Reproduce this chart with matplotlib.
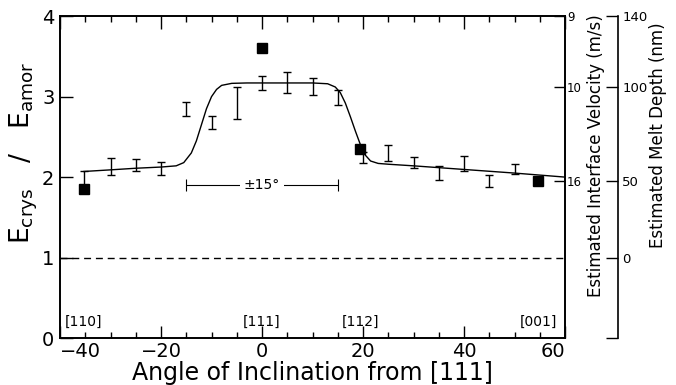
import matplotlib
matplotlib.use('Agg')
from matplotlib import pyplot as plt

plt.rcParams['font.family'] = ['DejaVu Sans']
plt.rcParams['mathtext.fontset'] = 'dejavusans'

# measured points (filled squares)
sq_x = [-35.26, 0.0, 19.47, 54.74]
sq_y = [1.85, 3.60, 2.35, 1.95]

# error bars: angle, lower, upper
eb_x = [-35.26, -30, -25, -20, -15, -10, -5, 0, 5, 10, 15, 20, 25, 30, 35, 40, 45, 50]
eb_lo = [1.87, 2.03, 2.08, 2.03, 2.76, 2.60, 2.72, 3.08, 3.04, 3.02, 2.89, 2.17, 2.20, 2.11, 1.96, 2.08, 1.88, 2.04]
eb_hi = [2.07, 2.24, 2.23, 2.19, 2.93, 2.76, 3.12, 3.26, 3.30, 3.23, 3.08, 2.31, 2.40, 2.25, 2.14, 2.26, 2.02, 2.16]

# fitted curve
fit_x = [-35.26, -30, -25, -20, -17, -15.5, -14, -13, -12, -11, -10, -9, -8, -6, -3, 0, 5, 10,
         13, 14.5, 15.5, 16.5, 17.5, 18.5, 19.5, 20.5, 21.5, 23, 25, 30, 40, 50, 60]
fit_y = [2.07, 2.09, 2.11, 2.125, 2.14, 2.18, 2.30, 2.45, 2.65, 2.85, 3.00, 3.09, 3.14, 3.165, 3.17, 3.17, 3.17, 3.17,
         3.16, 3.12, 3.05, 2.92, 2.75, 2.57, 2.40, 2.27, 2.20, 2.17, 2.16, 2.14, 2.095, 2.05, 2.00]

# orientation labels
dir_x = [-35.26, 0.0, 19.47, 54.74]
dir_txt = ['[110]', '[111]', '[112]', '[001]']

# right-hand scales, placed at left-axis positions
vel_pos = [1.95, 3.125, 4.0]
vel_lbl = ['16', '10', '9']
depth_pos = [0.0, 1.0, 1.95, 3.125, 4.0]
depth_lbl = ['', '0', '50', '100', '140']

fig = plt.figure(figsize=(6.76, 3.85), dpi=100)
ax = fig.add_axes([0.0888, 0.122, 0.747, 0.836])

ax.plot(fit_x, fit_y, color='black', lw=1.0)
mid = [(a + b) / 2 for a, b in zip(eb_lo, eb_hi)]
err = [(b - a) / 2 for a, b in zip(eb_lo, eb_hi)]
ax.errorbar(eb_x, mid, yerr=err, fmt='none', ecolor='black', elinewidth=1.0, capsize=3, capthick=1.0)
ax.plot(sq_x, sq_y, 's', color='black', ms=7)
ax.axhline(1.0, color='black', lw=1.0, linestyle=(0, (5, 3.5)))

# +-15 deg bracket
ax.errorbar([0], [1.9], xerr=[15], fmt='none', ecolor='black', elinewidth=0.8, capsize=4, capthick=0.8)
ax.text(0, 1.9, '±15°', ha='center', va='center', fontsize=10,
        bbox=dict(facecolor='white', edgecolor='none', pad=3))

for x, t in zip(dir_x, dir_txt):
    ax.text(x, 0.2, t, ha='center', va='center', fontsize=10)

ax.set_xlim(-40, 60)
ax.set_ylim(0, 4)
ax.set_xticks([-40, -20, 0, 20, 40, 60])
ax.set_xticks(range(-40, 61, 5), minor=True)
ax.set_yticks([0, 1, 2, 3, 4])
ax.set_xticklabels(['\u221240', '\u221220', '0', '20', '40', '60'])
ax.tick_params(axis='x', which='major', direction='in', length=9, width=1, top=True, labelsize=14, pad=3)
ax.tick_params(axis='x', which='minor', direction='in', length=4, width=1, top=True)
ax.tick_params(axis='y', direction='in', length=9, width=1, labelsize=14, pad=4)
xt = ax.get_xticklabels()
xt[0].set_ha('left')
xt[-1].set_ha('right')
for s in ax.spines.values():
    s.set_linewidth(1.4)

ax.set_xlabel('Angle of Inclination from [111]', fontsize=17, labelpad=0)
ax.set_ylabel('E$_{\\rm crys}$   /   E$_{\\rm amor}$', fontsize=19)
ax.yaxis.set_label_coords(-0.04, 0.575)

# interface velocity ticks on the frame
ax_v = ax.twinx()
ax_v.set_ylim(0, 4)
ax_v.set_yticks(vel_pos, vel_lbl)
ax_v.tick_params(axis='y', direction='in', length=8, width=1, labelsize=8.5, pad=1.5)
for s in ax_v.spines.values():
    s.set_visible(False)
ax.text(1.062, 0.568, 'Estimated Interface Velocity (m/s)', transform=ax.transAxes,
        rotation=90, ha='center', va='center', fontsize=12)

# melt depth axis, offset to the right
ax_d = ax.twinx()
ax_d.set_ylim(0, 4)
for k in ['left', 'top', 'bottom']:
    ax_d.spines[k].set_visible(False)
ax_d.spines['right'].set_position(('axes', 1.105))
ax_d.spines['right'].set_linewidth(1.2)
ax_d.set_yticks(depth_pos, depth_lbl)
ax_d.tick_params(axis='y', direction='in', length=9, width=1, labelsize=9.5, pad=3)
ax.text(1.185, 0.63, 'Estimated Melt Depth (nm)', transform=ax.transAxes,
        rotation=90, ha='center', va='center', fontsize=12)

fig.savefig('out.png', dpi=100)
